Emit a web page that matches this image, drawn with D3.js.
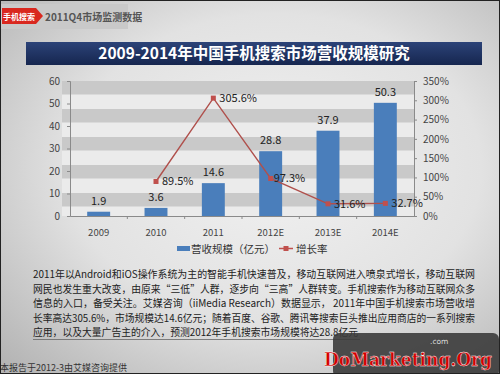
<!DOCTYPE html>
<html><head><meta charset="utf-8">
<script src="https://cdn.jsdelivr.net/npm/d3@7"></script>
<style>body{margin:0;padding:0;overflow:hidden}svg{display:block}</style>
</head><body>
<script>
const categories = ["2009","2010","2011","2012E","2013E","2014E"];
const revenue = [1.9, 3.6, 14.6, 28.8, 37.9, 50.3];
const growthCats = ["2010","2011","2012E","2013E","2014E"];
const growth = [89.5, 305.6, 97.3, 31.6, 32.7];
const leftTicks = [0,10,20,30,40,50,60];
const rightTicks = [0,50,100,150,200,250,300,350];
const seriesNames = ["营收规模（亿元）","增长率"];
const titleText = "2009-2014年中国手机搜索市场营收规模研究";
const badgeText = "手机搜索";
const tagText = "2011Q4市场监测数据";
const paragraph = [
 "2011年以Android和iOS操作系统为主的智能手机快速普及，移动互联网进入喷泉式增长，移动互联网",
 "网民也发生重大改变，由原来“三低”人群，逐步向“三高”人群转变。手机搜索作为移动互联网众多",
 "信息的入口，备受关注。艾媒咨询（iiMedia Research）数据显示， 2011年中国手机搜索市场营收增",
 "长率高达305.6%，市场规模达14.6亿元；随着百度、谷歌、腾讯等搜索巨头推出应用商店的一系列搜索",
 "应用，以及大量广告主的介入，预测2012年手机搜索市场规模将达28.8亿元"
];
const footerText = "本报告于2012-3由艾媒咨询提供";

const W = 500, H = 374;
const FONT = "'Noto Sans CJK SC','Noto Sans',sans-serif";
const svg = d3.select("body").append("svg").attr("width", W).attr("height", H);
const defs = svg.append("defs");

const bg = defs.append("radialGradient").attr("id","bg").attr("cx","55%").attr("cy","45%").attr("r","75%");
bg.append("stop").attr("offset","0%").attr("stop-color","#f1f1f1");
bg.append("stop").attr("offset","55%").attr("stop-color","#e2e2e2");
bg.append("stop").attr("offset","100%").attr("stop-color","#b4b4b4");
svg.append("rect").attr("width",W).attr("height",H).attr("fill","url(#bg)");

// badge
svg.append("rect").attr("x",0).attr("y",4).attr("width",128).attr("height",25).attr("fill","#c9c9c9");
svg.append("path").attr("d","M2,8 L36,8 L43,16 L36,24 L2,24 Z").attr("fill","#d9281f");
svg.append("text").attr("x",19).attr("y",19.5).attr("text-anchor","middle").attr("font-family",FONT)
  .attr("font-size",8).attr("font-weight","bold").attr("fill","#fff").text(badgeText);
svg.append("text").attr("x",45).attr("y",21).attr("font-family",FONT)
  .attr("font-size",10).attr("font-weight","bold").attr("fill","#555").text(tagText);

// title bar
const tg = defs.append("linearGradient").attr("id","tg").attr("x1","0").attr("x2","0").attr("y1","0").attr("y2","1");
tg.append("stop").attr("offset","0%").attr("stop-color","#2c4378");
tg.append("stop").attr("offset","100%").attr("stop-color","#16264f");
svg.append("rect").attr("x",26).attr("y",42).attr("width",456).attr("height",23).attr("fill","url(#tg)");
svg.append("text").attr("x",254).attr("y",59).attr("text-anchor","middle").attr("font-family",FONT)
  .attr("font-size",15.5).attr("font-weight","bold").attr("fill","#fff").text(titleText);

// scales
const x = d3.scaleBand().domain(categories).range([70,414]).paddingInner(0.6).paddingOuter(0.3);
const y = d3.scaleLinear().domain([0,60]).range([216,81]);
const y2 = d3.scaleLinear().domain([0,350]).range([216,81]);

// stripes
svg.append("rect").attr("x",62).attr("y",81).attr("width",352).attr("height",135).attr("fill","#ebebeb");
svg.append("g").selectAll("rect").data(d3.range(5)).join("rect")
  .attr("x",62).attr("width",352).attr("y",i=>81+i*28).attr("height",13.5).attr("fill","#c9c9c9");

// axes
const axL = svg.append("g").attr("transform","translate(70,0)")
  .call(d3.axisLeft(y).tickValues(leftTicks).tickSize(3).tickPadding(7));
const axR = svg.append("g").attr("transform","translate(414,0)")
  .call(d3.axisRight(y2).tickValues(rightTicks).tickSize(3).tickPadding(6).tickFormat(d=>d+"%"));
const axB = svg.append("g").attr("transform","translate(0,216)")
  .call(d3.axisBottom(x).tickSize(0).tickPadding(13));
[axL,axR,axB].forEach(a=>{
  a.select(".domain").attr("stroke","#8a8a8a");
  a.selectAll(".tick line").attr("stroke","#8a8a8a");
  a.selectAll("text").attr("font-family",FONT).attr("font-size",10).attr("fill","#444");
});
axB.selectAll("text").attr("font-size",9.5);
const step = x.step();
svg.append("g").selectAll("line").data(categories.slice(1)).join("line")
  .attr("x1",d=>x(d)-x.paddingInner()*step/2).attr("x2",d=>x(d)-x.paddingInner()*step/2)
  .attr("y1",216).attr("y2",219).attr("stroke","#8a8a8a");

// bars
svg.append("g").selectAll("rect").data(revenue).join("rect")
  .attr("x",(d,i)=>x(categories[i])).attr("width",x.bandwidth())
  .attr("y",d=>y(d)).attr("height",d=>216-y(d)).attr("fill","#4a7ebb");
svg.append("g").selectAll("text").data(revenue).join("text")
  .attr("x",(d,i)=>x(categories[i])+x.bandwidth()/2).attr("y",d=>y(d)-7)
  .attr("text-anchor","middle").attr("font-family",FONT).attr("font-size",11).attr("fill","#222")
  .text(d=>d.toFixed(1));

// line
const cx = c=>x(c)+x.bandwidth()/2;
svg.append("path").datum(growth).attr("fill","none").attr("stroke","#b0504c").attr("stroke-width",1.4)
  .attr("d",d3.line().x((d,i)=>cx(growthCats[i])).y(d=>y2(d)));
svg.append("g").selectAll("rect").data(growth).join("rect")
  .attr("x",(d,i)=>cx(growthCats[i])-2.5).attr("y",d=>y2(d)-2.5).attr("width",5).attr("height",5)
  .attr("fill","#c0504d");
svg.append("g").selectAll("text").data(growth).join("text")
  .attr("x",(d,i)=>cx(growthCats[i])+(i===2?3:6)).attr("y",d=>y2(d)+4)
  .attr("font-family",FONT).attr("font-size",11).attr("fill","#222")
  .text(d=>d.toFixed(1)+"%");

// legend
svg.append("rect").attr("x",177).attr("y",246).attr("width",13).attr("height",5).attr("fill","#4a7ebb");
svg.append("text").attr("x",191).attr("y",253).attr("font-family",FONT).attr("font-size",10.5).attr("fill","#333").text(seriesNames[0]);
svg.append("line").attr("x1",279).attr("x2",293).attr("y1",248.5).attr("y2",248.5).attr("stroke","#c0504d").attr("stroke-width",1.5);
svg.append("rect").attr("x",283.5).attr("y",246).attr("width",5).attr("height",5).attr("fill","#c0504d");
svg.append("text").attr("x",296).attr("y",253).attr("font-family",FONT).attr("font-size",10.5).attr("fill","#333").text(seriesNames[1]);

// paragraph
const lineYs = [278, 293, 307, 322, 336];
const lineW = [442, 442, 442, 442, 325];
svg.append("g").selectAll("text").data(paragraph).join("text")
  .attr("x",33).attr("y",(d,i)=>lineYs[i])
  .attr("font-family",FONT).attr("font-size",10.5).attr("fill","#222")
  .attr("textLength",(d,i)=>lineW[i]).attr("lengthAdjust","spacingAndGlyphs")
  .text(d=>d);
svg.append("line").attr("x1",33).attr("x2",360).attr("y1",339.5).attr("y2",339.5).attr("stroke","#666").attr("stroke-width",0.8);

// footer
svg.append("text").attr("x",0).attr("y",371).attr("font-family",FONT).attr("font-size",9).attr("fill","#333").text(footerText);

// watermark
svg.append("rect").attr("x",333).attr("y",333).attr("width",166).attr("height",44).attr("rx",6).attr("fill","#3b3b3b").attr("opacity",0.9);
svg.append("text").attr("x",430).attr("y",344).attr("font-family","DejaVu Sans").attr("font-size",7.5).attr("fill","#ddd").text(".com");
svg.append("text").attr("x",324).attr("y",366).attr("font-family","'DejaVu Serif',serif").attr("font-weight","bold")
  .attr("font-size",19).attr("fill","#d40000").attr("stroke","#fff").attr("stroke-width",0.4)
  .attr("textLength",168).attr("lengthAdjust","spacingAndGlyphs").text("DoMarketing.Org");

// border
svg.append("rect").attr("x",0.5).attr("y",0.5).attr("width",W-1).attr("height",H-1).attr("fill","none").attr("stroke","#222");
</script>
</body></html>
